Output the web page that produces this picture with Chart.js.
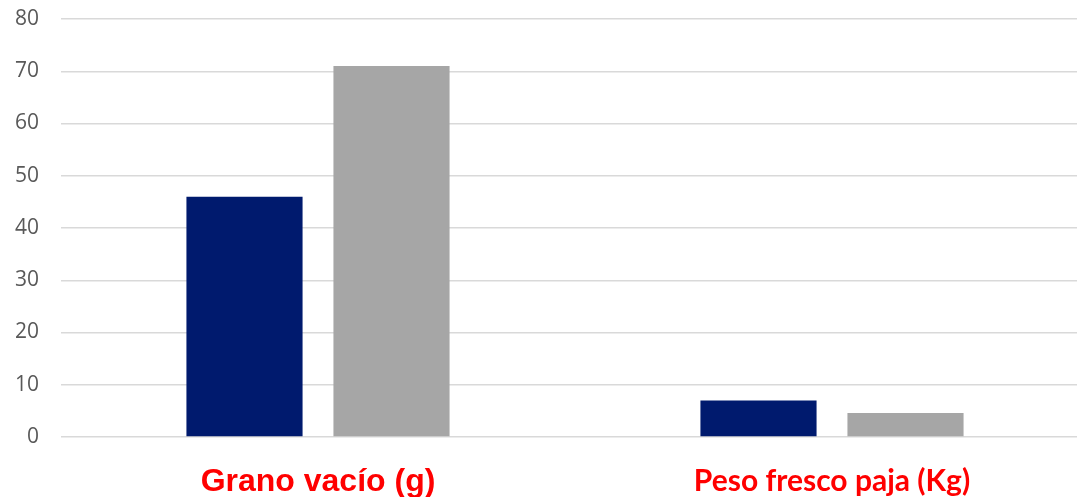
<!DOCTYPE html>
<html>
<head>
<meta charset="utf-8">
<script src="https://cdn.jsdelivr.net/npm/chart.js@4/dist/chart.umd.min.js"></script>
<style>
html,body{margin:0;padding:0;background:#fff;overflow:hidden;}
#wrap{width:1089px;height:497px;position:relative;}
</style>
</head>
<body>
<div id="wrap"><canvas id="c"></canvas></div>
<script>
const categories = ["Grano vacío (g)", "Peso fresco paja (Kg)"];
const seriesA = [46, 7];
const seriesB = [71, 4.6];
const yTicks = [0, 10, 20, 30, 40, 50, 60, 70, 80];

new Chart(document.getElementById('c'), {
  type: 'bar',
  data: {
    labels: categories,
    datasets: [
      { label: 'A', data: seriesA, backgroundColor: '#001A6E', categoryPercentage: 0.572, barPercentage: 0.79 },
      { label: 'B', data: seriesB, backgroundColor: '#A6A6A6', categoryPercentage: 0.572, barPercentage: 0.79 }
    ]
  },
  options: {
    responsive: true,
    maintainAspectRatio: false,
    animation: false,
    layout: { padding: { top: 19, right: 0, left: 15, bottom: 0 } },
    plugins: { legend: { display: false }, tooltip: { enabled: false } },
    scales: {
      x: {
        grid: { display: false, drawTicks: false },
        border: { display: false },
        afterFit: (axis) => { axis.height = 60; axis.paddingLeft = 0; axis.paddingRight = 0; },
        ticks: {
          color: '#FF0000',
          padding: 29,
          maxRotation: 0,
          font: (ctx) => ctx.index === 0
            ? { family: '"Liberation Sans", Arial, sans-serif', size: 32, weight: 'bold', lineHeight: 1.0 }
            : { family: 'Lato, "Open Sans", sans-serif', size: 30, weight: 'bold', lineHeight: 1.0 }
        }
      },
      y: {
        min: 0, max: 80,
        afterBuildTicks: (axis) => { axis.ticks = yTicks.map(v => ({ value: v })); },
        afterFit: (axis) => { axis.width = 46; axis.paddingTop = 0; axis.paddingBottom = 0; },
        grid: { color: '#D9D9D9', lineWidth: 1.5, drawTicks: false },
        border: { display: false },
        ticks: {
          color: '#595959',
          padding: 22,
          font: { family: '"Open Sans", sans-serif', size: 21 }
        }
      }
    }
  }
});
</script>
</body>
</html>
